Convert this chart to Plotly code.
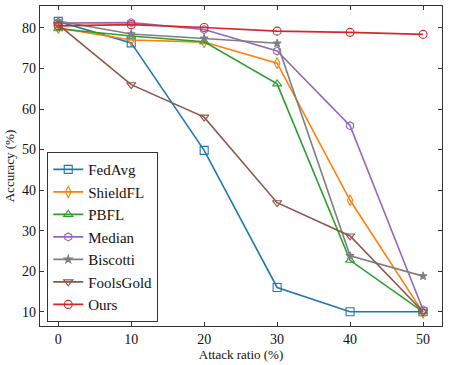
import plotly.graph_objects as go

# attack ratio (%) on x, accuracy (%) on y
ratio = [0, 10, 20, 30, 40, 50]

fedavg = [81.6, 76.3, 49.8, 16.0, 10.0, 10.0]
shieldfl = [80.0, 77.0, 76.5, 71.3, 37.5, 9.8]
pbfl = [79.8, 78.0, 76.6, 66.2, 22.7, 10.0]
median = [81.2, 81.3, 79.6, 74.3, 55.9, 10.5]
biscotti = [81.7, 78.5, 77.4, 76.2, 23.8, 18.8]
foolsgold = [80.8, 66.0, 58.0, 36.9, 28.7, 10.0]
ours = [80.5, 80.8, 80.1, 79.2, 78.9, 78.4]

series = [
    ("FedAvg", fedavg, "#1f77b4", "square-open", 8),
    ("ShieldFL", shieldfl, "#ff7f0e", "diamond-tall-open", 8),
    ("PBFL", pbfl, "#2ca02c", "triangle-up-open", 8),
    ("Median", median, "#9467bd", "hexagon-open", 8),
    ("Biscotti", biscotti, "#7f7f7f", "star", 6),
    ("FoolsGold", foolsgold, "#8c564b", "triangle-down-open", 8),
    ("Ours", ours, "#d62728", "circle-open", 8),
]

fig = go.Figure()
for name, vals, col, sym, sz in series:
    fig.add_trace(go.Scatter(
        x=ratio, y=vals, name=name, mode="lines+markers",
        line=dict(color=col, width=1.6),
        marker=dict(symbol=sym, size=sz, color=col, line=dict(color=col, width=1.1)),
    ))

axis_style = dict(
    showgrid=False, zeroline=False, showline=True, linecolor="#333", linewidth=1.2,
    mirror="ticks", ticks="inside", ticklen=4, tickcolor="#333",
    tickfont=dict(size=14, color="#111"), automargin=False,
)

fig.update_layout(
    width=449, height=365,
    margin=dict(l=40, r=7, t=6, b=39),
    paper_bgcolor="white", plot_bgcolor="white",
    font=dict(family="Liberation Serif", color="#111"),
    showlegend=True,
    legend=dict(
        x=0.018, y=0.012, xanchor="left", yanchor="bottom",
        bgcolor="white", bordercolor="#333", borderwidth=1,
        font=dict(size=15), tracegroupgap=0,
    ),
)
fig.update_xaxes(axis_style, range=[-2.5, 52.6], tickvals=[0, 10, 20, 30, 40, 50],
                 title=dict(text="Attack ratio (%)", font=dict(size=13), standoff=2))
fig.update_yaxes(axis_style, range=[6.5, 85.4], tickvals=[10, 20, 30, 40, 50, 60, 70, 80],
                 title=dict(text="Accuracy (%)", font=dict(size=13), standoff=4))

# drop the page's default body margin so the figure sits at the window corner
fig.write_html("out.html", config={"displayModeBar": False},
               post_script="document.body.style.margin='0';")
